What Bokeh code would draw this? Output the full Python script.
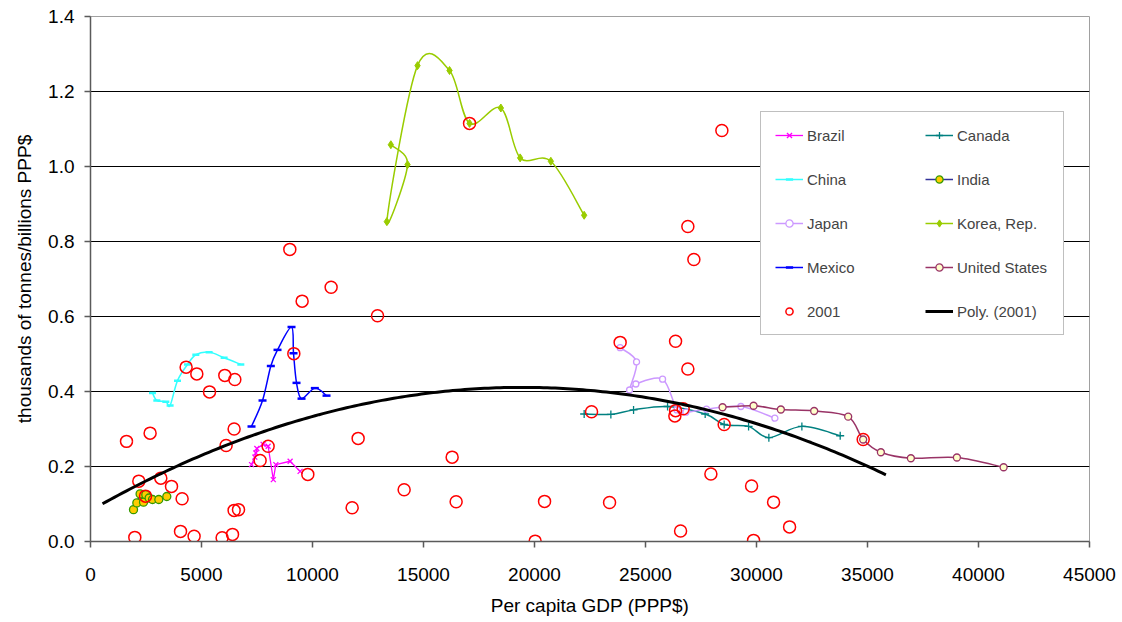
import numpy as np
from bokeh.plotting import figure
from bokeh.models import (Range1d, FixedTicker, PrintfTickFormatter, Legend,
                          LegendItem, ColumnDataSource)
from bokeh.embed import file_html
from bokeh.resources import INLINE

# ---------------- data ----------------
brazil_x = [7253, 7402, 7447, 7492, 7776, 8001, 8235, 8348, 8992, 9442]
brazil_y = [0.205, 0.225, 0.236, 0.248, 0.259, 0.254, 0.165, 0.205, 0.214, 0.187]

canada_x = [22237, 23440, 24462, 25994, 27688, 28544, 29643, 30557, 32044, 33770]
canada_y = [0.340, 0.339, 0.351, 0.360, 0.340, 0.312, 0.307, 0.277, 0.307, 0.282]

china_x = [2793, 2987, 3392, 3586, 3919, 4370, 4744, 5343, 6019, 6771]
china_y = [0.396, 0.376, 0.373, 0.363, 0.429, 0.472, 0.498, 0.505, 0.490, 0.472]

india_x = [1937, 2086, 2234, 2388, 2491, 2640, 2793, 3077, 3437]
india_y = [0.085, 0.103, 0.127, 0.105, 0.125, 0.116, 0.112, 0.112, 0.120]

japan_x = [23858, 24597, 24282, 24566, 25769, 26413, 26818, 27751, 29296, 30828]
japan_y = [0.517, 0.479, 0.404, 0.420, 0.433, 0.351, 0.345, 0.353, 0.360, 0.329]

korea_x = [13529, 14281, 13348, 14731, 16173, 17074, 18484, 19354, 20736, 22237]
korea_y = [1.058, 1.005, 0.853, 1.269, 1.256, 1.115, 1.156, 1.023, 1.014, 0.870]

mexico_x = [7253, 7749, 8123, 8424, 9055, 9145, 9280, 9506, 10105, 10632]
mexico_y = [0.307, 0.376, 0.468, 0.511, 0.572, 0.502, 0.423, 0.381, 0.409, 0.389]

us_x = [28472, 29868, 31098, 32598, 34130, 34806, 35603, 36955, 39027, 41131]
us_y = [0.358, 0.362, 0.352, 0.348, 0.333, 0.272, 0.238, 0.222, 0.224, 0.198]

y2001_x = [1622, 2685, 2176, 3167, 3649, 4127, 1996, 4055, 4667, 5929, 6397, 6469,
           6667, 4307, 4789, 5361, 6050, 6501, 6469, 6109, 7641, 8001, 9789, 9159,
           12056, 11786, 8978, 10839, 9533, 12929, 14128, 16290, 16470, 17074,
           20453, 20029, 23381, 23858, 26354, 26908, 22570, 26323, 26354, 26697,
           28544, 27945, 29778, 30769, 26580, 31490, 29868, 34806, 26908, 27179,
           28440, 2478]
y2001_y = [0.267, 0.289, 0.161, 0.169, 0.147, 0.114, 0.011, 0.027, 0.014, 0.010, 0.019, 0.083,
           0.085, 0.465, 0.447, 0.399, 0.443, 0.432, 0.300, 0.256, 0.216, 0.254, 0.179, 0.501,
           0.275, 0.090, 0.779, 0.678, 0.641, 0.602, 0.138, 0.225, 0.106, 1.115,
           0.107, 0.001, 0.104, 0.531, 0.534, 0.460, 0.346, 0.335, 0.349, 0.354,
           0.312, 0.180, 0.148, 0.105, 0.028, 0.039, 0.003, 0.272, 0.840, 0.752,
           1.096, 0.121]

# polynomial trendline (order 2) of the 2001 series
trend_coef = [-8.685e-10, 3.378e-5, 0.0825]
trend_range = [541, 35828]

x_ticks = [0, 5000, 10000, 15000, 20000, 25000, 30000, 35000, 40000, 45000]
y_ticks = [0.0, 0.2, 0.4, 0.6, 0.8, 1.0, 1.2, 1.4]

FONT = "Liberation Sans"


def smooth_source(xs, ys):
    """Bezier control points for an Excel-style smoothed line."""
    x = np.asarray(xs, float)
    y = np.asarray(ys, float)
    n = len(x)
    d = dict(x0=[], y0=[], x1=[], y1=[], cx0=[], cy0=[], cx1=[], cy1=[])
    for i in range(n - 1):
        im = max(i - 1, 0)
        ip = min(i + 2, n - 1)
        d["x0"].append(x[i]); d["y0"].append(y[i])
        d["x1"].append(x[i + 1]); d["y1"].append(y[i + 1])
        d["cx0"].append(x[i] + (x[i + 1] - x[im]) / 6.0)
        d["cy0"].append(y[i] + (y[i + 1] - y[im]) / 6.0)
        d["cx1"].append(x[i + 1] - (x[ip] - x[i]) / 6.0)
        d["cy1"].append(y[i + 1] - (y[ip] - y[i]) / 6.0)
    return ColumnDataSource(d)


p = figure(width=1122, height=622, output_backend="svg", toolbar_location=None,
           x_range=Range1d(0, 45000), y_range=Range1d(0, 1.4),
           min_border_left=90, min_border_right=33, min_border_top=16,
           min_border_bottom=81)
p.background_fill_color = "white"
p.border_fill_color = "white"
p.outline_line_color = "#a0a0a0"
p.outline_line_width = 1

p.xgrid.visible = False
p.ygrid.grid_line_color = "black"
p.ygrid.grid_line_width = 1
p.ygrid.ticker = FixedTicker(ticks=y_ticks)

p.xaxis.ticker = FixedTicker(ticks=x_ticks)
p.yaxis.ticker = FixedTicker(ticks=y_ticks)
p.xaxis.formatter = PrintfTickFormatter(format="%d")
p.yaxis.formatter = PrintfTickFormatter(format="%.1f")
for ax in (p.xaxis, p.yaxis):
    ax.axis_line_color = "#5a5a5a"
    ax.axis_line_width = 1.5
    ax.major_tick_line_color = "#5a5a5a"
    ax.major_tick_line_width = 1.5
    ax.major_tick_out = 6
    ax.major_tick_in = 0
    ax.minor_tick_out = 0
    ax.minor_tick_in = 0
    ax.major_label_text_font = FONT
    ax.major_label_text_font_size = "19px"
    ax.major_label_text_color = "black"
    ax.axis_label_text_font = FONT
    ax.axis_label_text_font_size = "19px"
    ax.axis_label_text_font_style = "normal"
    ax.axis_label_text_color = "black"
p.xaxis.major_label_standoff = 20
p.yaxis.major_label_standoff = 10
p.xaxis.axis_label = "Per capita GDP (PPP$)"
p.yaxis.axis_label = "thousands of tonnes/billions PPP$"
p.xaxis.axis_label_standoff = 11
p.yaxis.axis_label_standoff = 10

items = {}

# Brazil (straight lines, x markers)
r1 = p.line(brazil_x, brazil_y, line_color="#FF00FF", line_width=1.3)
r2 = p.scatter(brazil_x, brazil_y, marker="x", size=7, line_color="#FF00FF", line_width=1.3)
items["Brazil"] = [r1, r2]

# Canada (smoothed, + markers)
r1 = p.bezier(x0="x0", y0="y0", x1="x1", y1="y1", cx0="cx0", cy0="cy0", cx1="cx1",
              cy1="cy1", source=smooth_source(canada_x, canada_y),
              line_color="#008080", line_width=1.5)
r2 = p.scatter(canada_x, canada_y, marker="cross", size=8, line_color="#008080", line_width=1.3)
items["Canada"] = [r1, r2]

# China (smoothed, dash markers)
r1 = p.bezier(x0="x0", y0="y0", x1="x1", y1="y1", cx0="cx0", cy0="cy0", cx1="cx1",
              cy1="cy1", source=smooth_source(china_x, china_y),
              line_color="#33FFFF", line_width=1.5)
r2 = p.scatter(china_x, china_y, marker="dash", size=7, line_color="#33FFFF", line_width=2.5)
items["China"] = [r1, r2]

# India (straight, gold circles with green edge)
r1 = p.line(india_x, india_y, line_color="#333399", line_width=1.5)
r2 = p.scatter(india_x, india_y, marker="circle", size=8, fill_color="#FFCC00",
               line_color="#339900", line_width=1.3)
items["India"] = [r1, r2]

# Japan (smoothed, hollow circles)
r1 = p.bezier(x0="x0", y0="y0", x1="x1", y1="y1", cx0="cx0", cy0="cy0", cx1="cx1",
              cy1="cy1", source=smooth_source(japan_x, japan_y),
              line_color="#CC99FF", line_width=1.5)
r2 = p.scatter(japan_x, japan_y, marker="circle", size=6, fill_color="white",
               line_color="#CC99FF", line_width=1.3)
items["Japan"] = [r1, r2]

# Korea (smoothed, diamonds)
r1 = p.bezier(x0="x0", y0="y0", x1="x1", y1="y1", cx0="cx0", cy0="cy0", cx1="cx1",
              cy1="cy1", source=smooth_source(korea_x, korea_y),
              line_color="#99CC00", line_width=1.5)
r2 = p.scatter(korea_x, korea_y, marker="diamond", size=8, fill_color="#99CC00",
               line_color="#99CC00", line_width=1)
items["Korea, Rep."] = [r1, r2]

# Mexico (smoothed, dash markers)
r1 = p.bezier(x0="x0", y0="y0", x1="x1", y1="y1", cx0="cx0", cy0="cy0", cx1="cx1",
              cy1="cy1", source=smooth_source(mexico_x, mexico_y),
              line_color="#0000FF", line_width=1.5)
r2 = p.scatter(mexico_x, mexico_y, marker="dash", size=8, line_color="#0000FF", line_width=2.5)
items["Mexico"] = [r1, r2]

# United States (smoothed, light-yellow circles)
r1 = p.bezier(x0="x0", y0="y0", x1="x1", y1="y1", cx0="cx0", cy0="cy0", cx1="cx1",
              cy1="cy1", source=smooth_source(us_x, us_y),
              line_color="#993366", line_width=1.5)
r2 = p.scatter(us_x, us_y, marker="circle", size=7, fill_color="#FFFFCC",
               line_color="#993366", line_width=1.3)
items["United States"] = [r1, r2]

# 2001 scatter
r2001 = p.scatter(y2001_x, y2001_y, marker="circle", size=12, fill_color=None,
                  line_color="#FF0000", line_width=1.5)
items["2001"] = [r2001]

# polynomial trendline
tx = np.linspace(trend_range[0], trend_range[1], 200)
ty = np.polyval(trend_coef, tx)
rpoly = p.line(tx, ty, line_color="black", line_width=3)
items["Poly. (2001)"] = [rpoly]

# legend is filled column by column: left column first, then right column
order = ["Brazil", "China", "Japan", "Mexico", "2001",
         "Canada", "India", "Korea, Rep.", "United States", "Poly. (2001)"]
legend = Legend(items=[LegendItem(label=k, renderers=items[k]) for k in order],
                location=(670, 206), ncols=2,
                label_text_font=FONT, label_text_font_size="15px",
                glyph_width=28, glyph_height=18, label_height=18, label_width=92,
                label_standoff=4, spacing=26, padding=14,
                border_line_color="#808080", border_line_width=1.5,
                background_fill_color="white", background_fill_alpha=1.0)
p.add_layout(legend)

open("out.html", "w").write(file_html(p, INLINE))
